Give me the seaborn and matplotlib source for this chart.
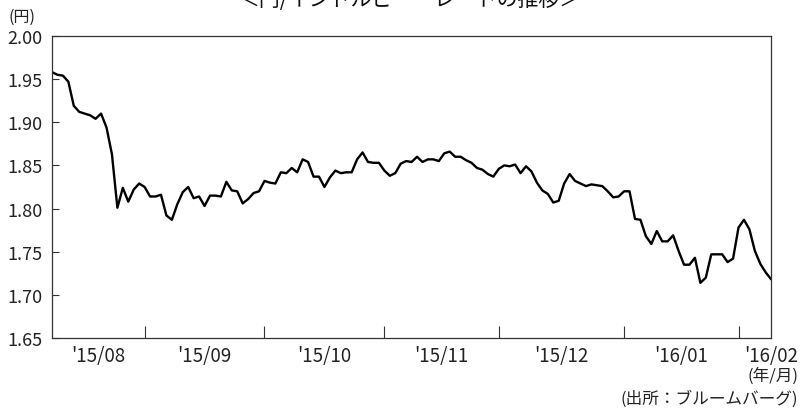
import numpy as np
import pandas as pd
import matplotlib
matplotlib.use("Agg")
import matplotlib.pyplot as plt
import seaborn as sns

# ---- data ----
rate = [
    1.958, 1.955, 1.954, 1.947, 1.919, 1.912, 1.910, 1.908, 1.904, 1.910,
    1.894, 1.863, 1.801, 1.824, 1.808, 1.822, 1.829, 1.825, 1.814, 1.814,
    1.816, 1.792, 1.787, 1.805, 1.819, 1.825, 1.812, 1.814, 1.803, 1.815,
    1.815, 1.814, 1.831, 1.821, 1.820, 1.806, 1.811, 1.818, 1.820, 1.832,
    1.830, 1.829, 1.842, 1.841, 1.847, 1.842, 1.857, 1.854, 1.837, 1.837,
    1.825, 1.836, 1.844, 1.841, 1.842, 1.842, 1.857, 1.865, 1.854, 1.853,
    1.853, 1.844, 1.838, 1.841, 1.852, 1.855, 1.854, 1.860, 1.854, 1.857,
    1.857, 1.855, 1.864, 1.866, 1.860, 1.860, 1.856, 1.853, 1.847, 1.845,
    1.840, 1.837, 1.846, 1.850, 1.849, 1.851, 1.841, 1.849, 1.843, 1.830,
    1.821, 1.817, 1.807, 1.809, 1.829, 1.840, 1.832, 1.829, 1.826, 1.828,
    1.827, 1.826, 1.820, 1.813, 1.814, 1.820, 1.820, 1.788, 1.787, 1.768,
    1.759, 1.774, 1.762, 1.762, 1.769, 1.751, 1.735, 1.735, 1.743, 1.714,
    1.720, 1.747, 1.747, 1.747, 1.738, 1.742, 1.778, 1.787, 1.776, 1.751,
    1.736, 1.726, 1.718,
]
# number of observations in each segment between month ticks
obs_per_segment = [17, 22, 22, 21, 23, 21, 7]
month_labels = ["'15/08", "'15/09", "'15/10", "'15/11", "'15/12", "'16/01", "'16/02"]
y_ticks = [1.65, 1.70, 1.75, 1.80, 1.85, 1.90, 1.95, 2.00]

title = "＜円/インドルピー・レートの推移＞"
y_unit = "(円)"
x_unit = "(年/月)"
source = "(出所：ブルームバーグ)"

# ---- plot ----
sns.set_theme(style="white")
plt.rcParams["font.family"] = ["Noto Sans CJK JP", "DejaVu Sans"]

df = pd.DataFrame({"idx": np.arange(len(rate)), "rate": rate})

fig = plt.figure(figsize=(8.0, 4.1), dpi=100)
ax = fig.add_axes([0.065, 0.173, 0.899, 0.737])

sns.lineplot(data=df, x="idx", y="rate", ax=ax, color="black", linewidth=1.7)

n = len(rate)
bounds = np.concatenate([[0], np.cumsum(obs_per_segment)])
ax.set_xlim(0, n - 1)
ax.set_ylim(1.65, 2.00)

# month tick marks (boundaries)
ax.set_xticks(bounds[1:-1])
ax.set_xticklabels([])
ax.tick_params(axis="x", which="major", direction="in", length=9, width=0.8,
               color="#333333", bottom=True)
# labels between ticks
label_pos = [(bounds[k] + bounds[k + 1]) / 2 for k in range(len(obs_per_segment) - 1)]
label_pos.append(n - 1)
ax.set_xticks(label_pos, minor=True)
ax.set_xticklabels(month_labels, minor=True, fontsize=13.5, color="#222222")
ax.tick_params(axis="x", which="minor", length=0, pad=5, bottom=True)

ax.set_yticks(y_ticks)
ax.set_yticklabels([f"{v:.2f}" for v in y_ticks], fontsize=13, color="#222222")
ax.tick_params(axis="y", direction="in", length=5, width=0.8, color="#333333",
               pad=7, left=True)

ax.set_xlabel("")
ax.set_ylabel("")
for s in ax.spines.values():
    s.set_color("#333333")
    s.set_linewidth(0.9)
    s.set_visible(True)

fig.text(0.512, 1.0, title, ha="center", va="center", fontsize=15, color="#111111")
fig.text(0.028, 0.957, y_unit, ha="center", va="center", fontsize=11.5, color="#222222")
fig.text(0.998, 0.083, x_unit, ha="right", va="center", fontsize=12, color="#222222")
fig.text(0.998, 0.026, source, ha="right", va="center", fontsize=12, color="#222222")

fig.savefig("out.png", dpi=100)
